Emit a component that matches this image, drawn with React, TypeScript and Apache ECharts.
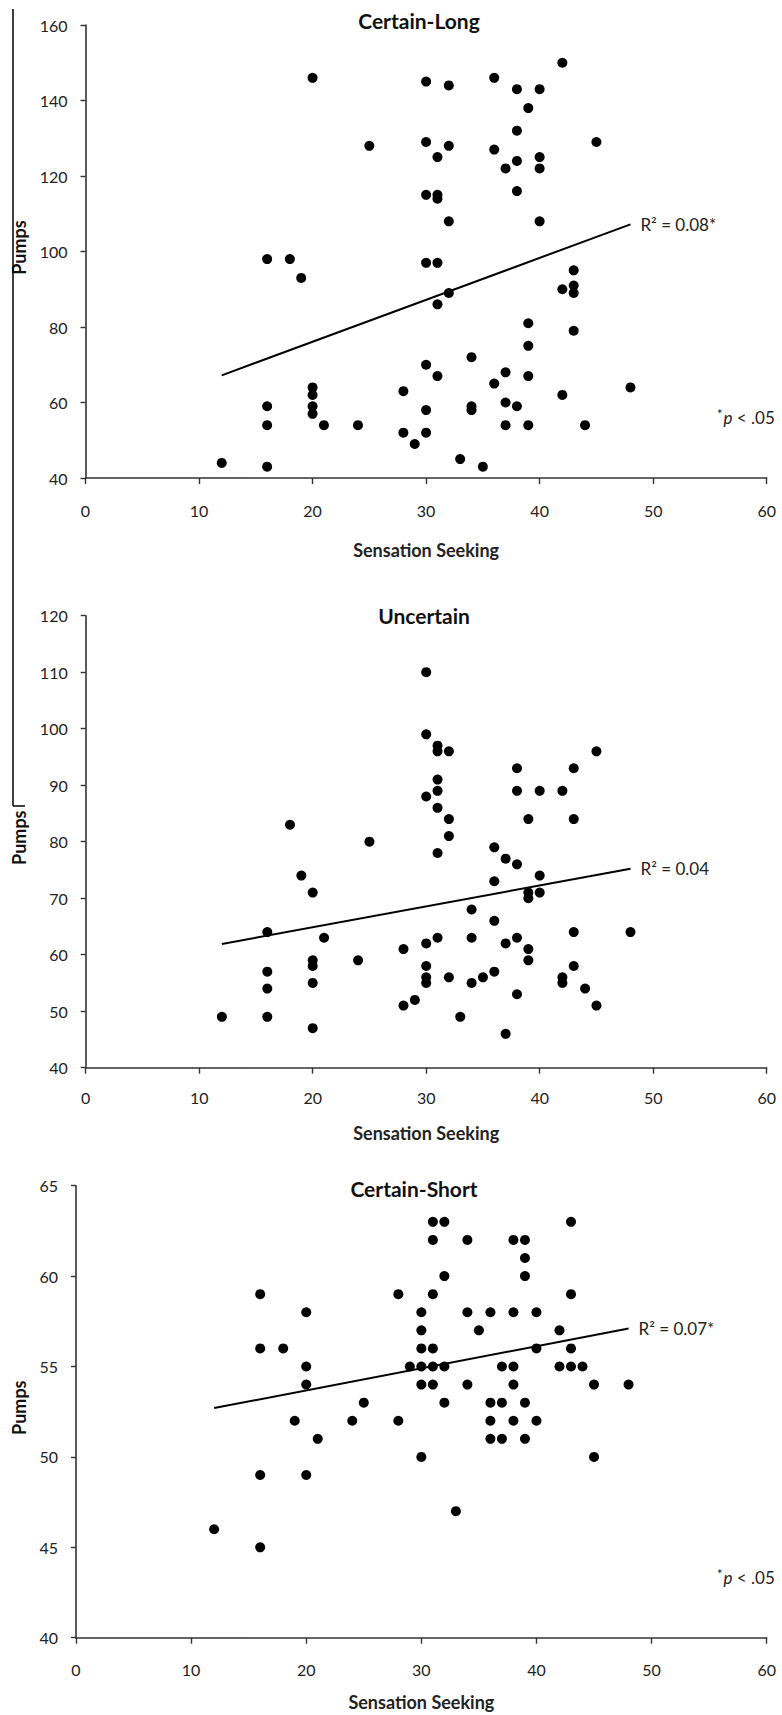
import React, { useEffect, useRef } from "react";
import * as echarts from "echarts";

const FONT = "Lato, 'Open Sans', 'DejaVu Sans', sans-serif";

// ---------- data ----------
const panelTitles = ["Certain-Long", "Uncertain", "Certain-Short"];
const xAxisTitle = "Sensation Seeking";
const yAxisTitle = "Pumps";
const xRange = [0, 60, 10];
const yRanges = [
  [40, 160, 20],
  [40, 120, 10],
  [40, 65, 5],
];
const r2Labels = ["R\u00b2 = 0.08*", "R\u00b2 = 0.04", "R\u00b2 = 0.07*"];

// [Sensation Seeking, Pumps]
const certainLong: number[][] = [
  [20, 146], [25, 128], [42, 150], [30, 145], [32, 144], [36, 146], [38, 143], [40, 143],
  [39, 138], [38, 132], [30, 129], [32, 128], [31, 125], [36, 127], [38, 124], [37, 122],
  [40, 125], [40, 122], [45, 129], [30, 115], [31, 115], [31, 114], [38, 116], [32, 108],
  [40, 108], [16, 98], [18, 98], [19, 93], [20, 64], [20, 62], [20, 59], [20, 57],
  [16, 59], [16, 54], [21, 54], [24, 54], [12, 44], [16, 43], [30, 97], [31, 97],
  [32, 89], [31, 86], [43, 95], [42, 90], [43, 91], [43, 89], [39, 81], [43, 79],
  [39, 75], [34, 72], [30, 70], [31, 67], [37, 68], [39, 67], [36, 65], [28, 63],
  [42, 62], [48, 64], [30, 58], [34, 59], [34, 58], [37, 60], [38, 59], [28, 52],
  [30, 52], [37, 54], [39, 54], [44, 54], [29, 49], [33, 45], [35, 43],
];

const uncertain: number[][] = [
  [30, 110], [30, 99], [31, 97], [31, 96], [32, 96], [45, 96], [38, 93], [43, 93],
  [31, 91], [30, 88], [31, 89], [38, 89], [40, 89], [42, 89], [31, 86], [32, 84],
  [39, 84], [43, 84], [32, 81], [31, 78], [36, 79], [37, 77], [38, 76], [40, 74],
  [36, 73], [39, 71], [39, 70], [40, 71], [34, 68], [36, 66], [28, 61], [30, 62],
  [31, 63], [34, 63], [37, 62], [38, 63], [39, 61], [39, 59], [43, 64], [48, 64],
  [30, 58], [30, 56], [30, 55], [32, 56], [34, 55], [35, 56], [36, 57], [42, 56],
  [42, 55], [43, 58], [44, 54], [38, 53], [28, 51], [29, 52], [45, 51], [33, 49],
  [37, 46], [18, 83], [25, 80], [19, 74], [20, 71], [16, 64], [21, 63], [20, 59],
  [20, 58], [24, 59], [16, 57], [16, 54], [20, 55], [12, 49], [16, 49], [20, 47],
];

const certainShort: number[][] = [
  [16, 59], [20, 58], [16, 56], [18, 56], [20, 55], [20, 54], [25, 53], [28, 59],
  [19, 52], [24, 52], [28, 52], [21, 51], [16, 49], [20, 49], [12, 46], [16, 45],
  [31, 63], [32, 63], [43, 63], [31, 62], [34, 62], [38, 62], [39, 62], [39, 61],
  [32, 60], [39, 60], [31, 59], [43, 59], [30, 58], [34, 58], [36, 58], [38, 58],
  [40, 58], [30, 57], [35, 57], [42, 57], [30, 56], [31, 56], [40, 56], [43, 56],
  [29, 55], [30, 55], [31, 55], [32, 55], [37, 55], [38, 55], [42, 55], [43, 55],
  [44, 55], [30, 54], [31, 54], [34, 54], [38, 54], [45, 54], [48, 54], [32, 53],
  [36, 53], [37, 53], [39, 53], [36, 52], [38, 52], [40, 52], [36, 51], [37, 51],
  [39, 51], [30, 50], [45, 50], [33, 47],
];

// fitted trend line end points [x, y]
const trendLong = [[12, 67.2], [48, 107.2]];
const trendUncertain = [[12, 61.9], [48, 75.2]];
const trendShort = [[12, 52.7], [48, 57.1]];

const panelData = [certainLong, uncertain, certainShort];
const panelTrends = [trendLong, trendUncertain, trendShort];

// ---------- layout ----------
const W = 782;
const H = 1715;
const grids = [
  { left: 85.5, top: 25, width: 681.2, height: 453 },
  { left: 85.7, top: 615.7, width: 681, height: 452 },
  { left: 76, top: 1185.7, width: 690.7, height: 452 },
];
const titlePos = [
  [419, 20],
  [424, 615],
  [414, 1188],
];
const xLabelMargin = [24, 22, 24];
const xNameGap = [63, 56, 55];
const yNameX = [19, 19, 19];
const notePos = [
  [717, 417],
  null,
  [717, 1577],
];

const AXIS_COLOR = "#333";
const TEXT_COLOR = "#222";

export default function App() {
  const ref = useRef<HTMLDivElement>(null);

  useEffect(() => {
    if (!ref.current) return;
    const chart = echarts.init(ref.current, undefined, { renderer: "svg" });

    const xAxis = grids.map((_, i) => ({
      type: "value",
      gridIndex: i,
      min: xRange[0],
      max: xRange[1],
      interval: xRange[2],
      splitLine: { show: false },
      axisLine: { show: true, lineStyle: { color: AXIS_COLOR, width: 1.6 } },
      axisTick: { show: true, inside: false, length: 6, lineStyle: { color: AXIS_COLOR, width: 1.4 } },
      axisLabel: { color: TEXT_COLOR, fontSize: 16, fontFamily: FONT, margin: xLabelMargin[i] },
      name: xAxisTitle,
      nameLocation: "middle",
      nameGap: xNameGap[i],
      nameTextStyle: { color: TEXT_COLOR, fontSize: 18, fontWeight: "bold", fontFamily: FONT },
    }));

    const yAxis = grids.map((_, i) => ({
      type: "value",
      gridIndex: i,
      min: yRanges[i][0],
      max: yRanges[i][1],
      interval: yRanges[i][2],
      splitLine: { show: false },
      axisLine: { show: true, lineStyle: { color: AXIS_COLOR, width: 1.6 } },
      axisTick: { show: true, inside: false, length: 5, lineStyle: { color: AXIS_COLOR, width: 1.4 } },
      axisLabel: { color: TEXT_COLOR, fontSize: 16, fontFamily: FONT, margin: 18 },
    }));

    const series: any[] = [];
    panelData.forEach((pts, i) => {
      series.push({
        type: "scatter",
        xAxisIndex: i,
        yAxisIndex: i,
        data: pts,
        symbol: "circle",
        symbolSize: 10,
        itemStyle: { color: "#000", opacity: 1 },
        silent: true,
      });
      series.push({
        type: "line",
        xAxisIndex: i,
        yAxisIndex: i,
        data: panelTrends[i],
        showSymbol: false,
        lineStyle: { color: "#000", width: 2 },
        silent: true,
        endLabel: {
          show: true,
          formatter: r2Labels[i],
          distance: 10,
          color: TEXT_COLOR,
          fontSize: 17,
          fontFamily: FONT,
        },
      });
    });

    const graphic: any[] = [];
    panelTitles.forEach((t, i) => {
      graphic.push({
        type: "text",
        x: titlePos[i][0],
        y: titlePos[i][1],
        style: {
          text: t,
          align: "center",
          verticalAlign: "middle",
          fill: "#111",
          font: `bold 21px ${FONT}`,
        },
      });
      graphic.push({
        type: "text",
        x: yNameX[i],
        y: grids[i].top + grids[i].height / 2 - 4,
        rotation: Math.PI / 2,
        style: {
          text: yAxisTitle,
          align: "center",
          verticalAlign: "middle",
          fill: "#111",
          font: `bold 18px ${FONT}`,
        },
      });
      const np = notePos[i];
      if (np) {
        graphic.push({
          type: "text",
          x: np[0],
          y: np[1],
          style: {
            text: "{s|*}{i|p}{n| < .05}",
            verticalAlign: "middle",
            rich: {
              s: { fontSize: 13, fontFamily: FONT, fill: TEXT_COLOR, verticalAlign: "top", padding: [0, 1, 6, 0] },
              i: { fontSize: 17, fontStyle: "italic", fontFamily: FONT, fill: TEXT_COLOR },
              n: { fontSize: 17, fontFamily: FONT, fill: TEXT_COLOR },
            },
          },
        });
      }
    });
    // page border fragment at the left
    graphic.push({
      type: "line",
      shape: { x1: 13, y1: 9, x2: 13, y2: 806 },
      style: { stroke: "#000", lineWidth: 1.5 },
    });
    graphic.push({
      type: "line",
      shape: { x1: 13, y1: 806, x2: 25, y2: 806 },
      style: { stroke: "#000", lineWidth: 1.5 },
    });

    chart.setOption({
      animation: false,
      backgroundColor: "#fff",
      textStyle: { fontFamily: FONT },
      grid: grids.map((g) => ({ ...g, containLabel: false })),
      xAxis,
      yAxis,
      series,
      graphic,
    });

    return () => chart.dispose();
  }, []);

  return (
    <div
      ref={ref}
      style={{ position: "absolute", left: 0, top: 0, width: W, height: H, background: "#fff" }}
    />
  );
}
